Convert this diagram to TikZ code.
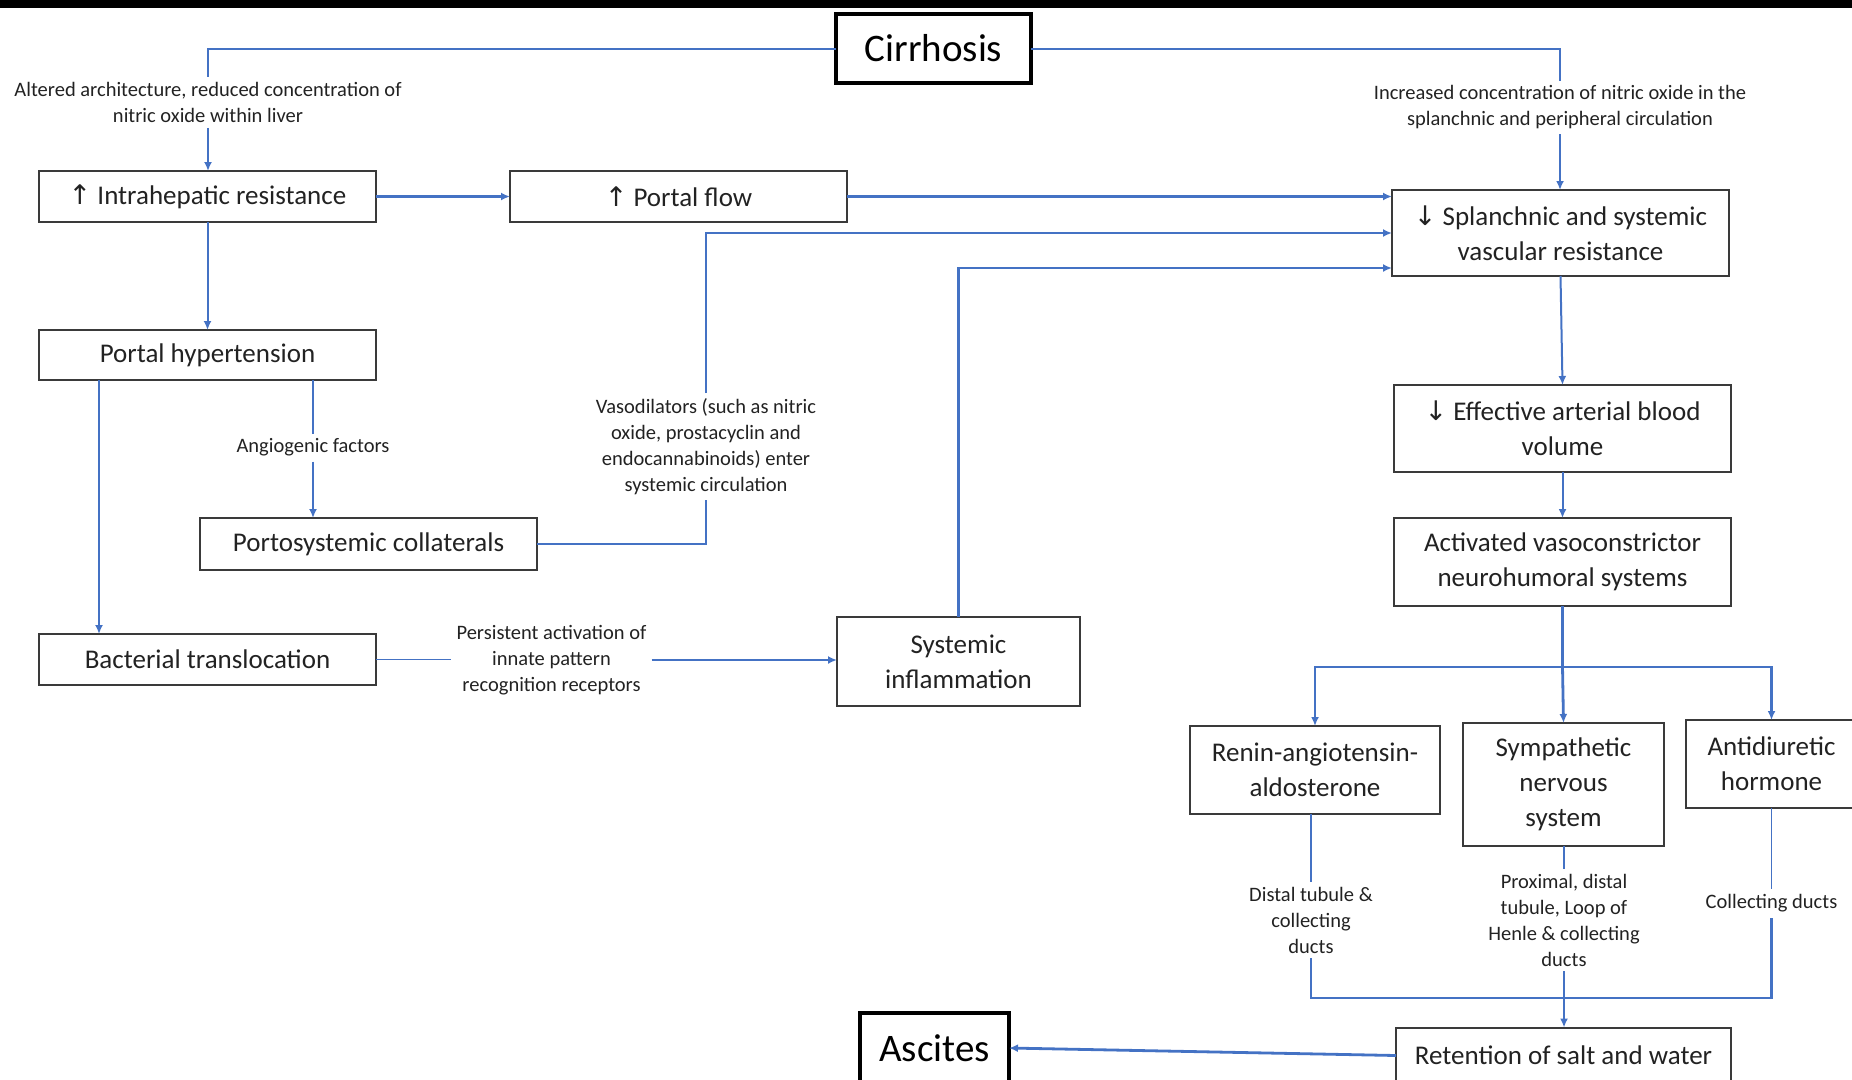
\documentclass[tikz,border=0pt]{standalone}
\usepackage{fontspec}
\setmainfont{Carlito}
\newfontfamily\arrfont{DejaVu Sans}
\usetikzlibrary{arrows.meta}
\definecolor{lnblue}{HTML}{4472C4}
\definecolor{bxgray}{HTML}{3A3A3A}
\definecolor{txt}{HTML}{222222}
\newcommand{\upar}{{\arrfont\fontsize{27}{27}\selectfont ↑}}
\newcommand{\dnar}{{\arrfont\fontsize{27}{27}\selectfont ↓}}
\begin{document}
\begin{tikzpicture}[x=1pt,y=-1pt,
  box/.style={draw=bxgray, line width=2pt, inner sep=0pt, outer sep=0pt, align=center, text=txt, font=\fontsize{27}{35}\selectfont},
  bigbox/.style={draw=black, line width=4pt, inner sep=0pt, outer sep=0pt, align=center, text=black, font=\fontsize{39}{44}\selectfont},
  lbl/.style={align=center, inner sep=5pt, text=txt, font=\fontsize{20.5}{26}\selectfont},
  con/.style={draw=lnblue, line width=2pt},
  thinc/.style={draw=lnblue, line width=1.4pt},
  thickc/.style={draw=lnblue, line width=2.8pt},
  tip/.style={-{Latex[length=9pt,width=8pt]}},
]
\useasboundingbox (0,0) rectangle (1852,1079);
\clip (0,0) rectangle (1852,1079);
\fill[black] (0,0) rectangle (1852,8);

% boxes
\node[bigbox, minimum width=195pt, minimum height=69pt] (cirr) at (933.5,48.5) {Cirrhosis};
\node[box, minimum width=337pt, minimum height=51pt] (intra) at (207.5,196.5) {\upar\ Intrahepatic resistance};
\node[box, minimum width=337pt, minimum height=51pt] (pflow) at (678.5,196.5) {\upar\ Portal flow};
\node[box, minimum width=337pt, minimum height=86pt] (splan) at (1560.5,233) {\dnar\ Splanchnic and systemic\\vascular resistance};
\node[box, minimum width=337pt, minimum height=50pt] (ph) at (207.5,355) {Portal hypertension};
\node[box, minimum width=337pt, minimum height=52pt] (psc) at (368.5,544) {Portosystemic collaterals};
\node[box, minimum width=337pt, minimum height=51pt] (bact) at (207.5,659.5) {Bacterial translocation};
\node[box, minimum width=243pt, minimum height=89pt] (sysinf) at (958.5,661.5) {Systemic\\inflammation};
\node[box, minimum width=337pt, minimum height=87pt] (eff) at (1562.5,428.5) {\dnar\ Effective arterial blood\\volume};
\node[box, minimum width=337pt, minimum height=88pt] (act) at (1562.5,562) {Activated vasoconstrictor\\neurohumoral systems};
\node[box, minimum width=250pt, minimum height=88pt] (raa) at (1315,770) {Renin-angiotensin-\\aldosterone};
\node[box, minimum width=201pt, minimum height=123pt] (sns) at (1563.5,784.5) {Sympathetic\\nervous\\system};
\node[box, minimum width=171pt, minimum height=88pt] (adh) at (1771.5,764) {Antidiuretic\\hormone};
\node[box, minimum width=335pt, minimum height=56pt] (ret) at (1563.5,1055.5) {Retention of salt and water};
\node[bigbox, minimum width=149pt, minimum height=70pt] (asc) at (934.5,1048) {Ascites};

% labels
\node[lbl] (lalt) at (208,102.5) {Altered architecture, reduced concentration of\\nitric oxide within liver};
\node[lbl] (linc) at (1560,107.5) {Increased concentration of nitric oxide in the\\splanchnic and peripheral circulation};
\node[lbl] (lang) at (313,447.6) {Angiogenic factors};
\node[lbl] (lvaso) at (706,446.5) {Vasodilators (such as nitric\\oxide, prostacyclin and\\endocannabinoids) enter\\systemic circulation};
\node[lbl] (lpers) at (551.5,660) {Persistent activation of\\innate pattern\\recognition receptors};
\node[lbl] (ldist) at (1311,920) {Distal tubule \&\\collecting\\ducts};
\node[lbl] (lprox) at (1564,920) {Proximal, distal\\tubule, Loop of\\Henle \& collecting\\ducts};
\node[lbl] (lcoll) at (1771.5,903.5) {Collecting ducts};
\coordinate (brk) at (1563.5,667);
\coordinate (col) at (1563.5,998);

% connectors
\draw[con] (cirr.west) -| (lalt.north);
\draw[con,tip] (lalt.south) -- (lalt.south |- intra.north);
\draw[con] (cirr.east) -| (linc.north);
\draw[con,tip] (linc.south) -- (linc.south |- splan.north);
\draw[thickc,tip] (intra.east) -- (pflow.west);
\draw[thickc,tip] (pflow.east) -- (pflow.east -| splan.west);
\draw[con,tip] (intra.south) -- (intra.south |- ph.north);
\draw[thinc] (lang.north |- ph.south) -- (lang.north);
\draw[con,tip] (lang.south) -- (lang.south |- psc.north);
\draw[con,tip] ([xshift=60pt]ph.south west) -- ([xshift=60pt]bact.north west);
\draw[thinc] (psc.east) -| (lvaso.south);
\draw[thickc,tip] (lvaso.north) |- (splan.west);
\draw[thickc,tip] (sysinf.north) |- ([yshift=-35pt]splan.west);
\draw[thinc] (bact.east) -- (bact.east -| lpers.west);
\draw[thickc,tip] (lpers.east) -- (lpers.east -| sysinf.west);
\draw[con,tip] (splan.south) -- (eff.north);
\draw[con,tip] (eff.south) -- (act.north);
\draw[thickc] (act.south) -- (act.south |- brk);
\draw[thickc,tip] (act.south |- brk) -- (sns.north);
\draw[thickc,tip] (act.south |- brk) -| (raa.north);
\draw[thickc,tip] (act.south |- brk) -| (adh.north);
\draw[thinc] (ldist.north |- raa.south) -- (ldist.north);
\draw[thinc] (lprox.north |- sns.south) -- (lprox.north);
\draw[thinc] (adh.south) -- (lcoll.north);
\draw[thickc] (ldist.south) |- (lcoll.south |- col) -- (lcoll.south);
\draw[thickc,tip] (lprox.south) -- (lprox.south |- ret.north);
\draw[thickc,tip] (ret.west) -- (asc.east);
\end{tikzpicture}
\end{document}
